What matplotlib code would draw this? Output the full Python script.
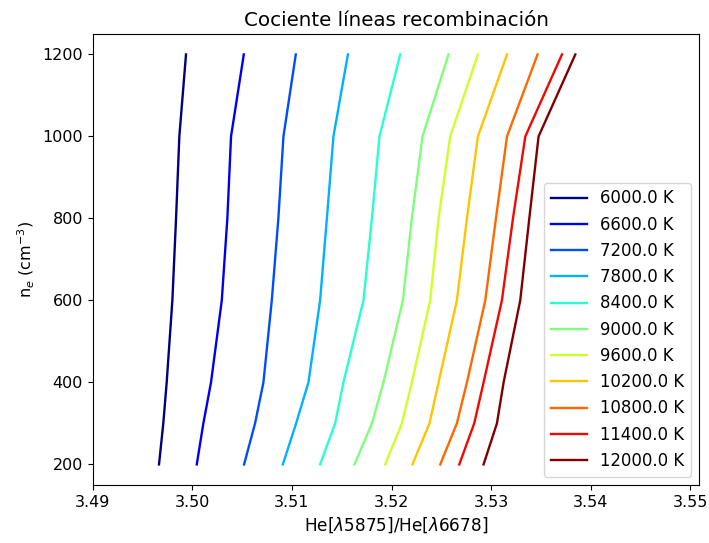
import numpy as np
import matplotlib
matplotlib.use("Agg")
import matplotlib.pyplot as plt

# densidades electronicas (cm^-3)
ne = [200, 300, 400, 600, 800, 1000, 1200]

temps = [6000.0, 6600.0, 7200.0, 7800.0, 8400.0, 9000.0,
         9600.0, 10200.0, 10800.0, 11400.0, 12000.0]

# cociente He 5875/6678 para cada temperatura
ratio_6000 = [3.49666, 3.49709, 3.49743, 3.49800, 3.49837, 3.49870, 3.49937]
ratio_6600 = [3.50045, 3.50111, 3.50188, 3.50296, 3.50352, 3.50389, 3.50517]
ratio_7200 = [3.50520, 3.50630, 3.50714, 3.50798, 3.50864, 3.50915, 3.51039]
ratio_7800 = [3.50909, 3.51042, 3.51166, 3.51283, 3.51351, 3.51417, 3.51562]
ratio_8400 = [3.51283, 3.51434, 3.51517, 3.51718, 3.51803, 3.51879, 3.52087]
ratio_9000 = [3.51628, 3.51803, 3.51919, 3.52114, 3.52204, 3.52311, 3.52572]
ratio_9600 = [3.51936, 3.52104, 3.52204, 3.52388, 3.52472, 3.52589, 3.52867]
ratio_10200 = [3.52210, 3.52381, 3.52472, 3.52656, 3.52757, 3.52867, 3.53159]
ratio_10800 = [3.52489, 3.52656, 3.52757, 3.52941, 3.53048, 3.53159, 3.53466]
ratio_11400 = [3.52680, 3.52830, 3.52924, 3.53108, 3.53219, 3.53343, 3.53711]
ratio_12000 = [3.52924, 3.53058, 3.53125, 3.53292, 3.53383, 3.53476, 3.53845]

ratios = [ratio_6000, ratio_6600, ratio_7200, ratio_7800, ratio_8400, ratio_9000,
          ratio_9600, ratio_10200, ratio_10800, ratio_11400, ratio_12000]

plt.rcParams["font.size"] = 11.5

fig = plt.figure(figsize=(7.09, 5.43), dpi=100)
ax = fig.add_axes([0.1307, 0.107, 0.8557, 0.8305])

colors = plt.cm.jet(np.linspace(0, 1, len(temps)))
for T, r, c in zip(temps, ratios, colors):
    ax.plot(r, ne, color=c, lw=1.7, label=f"{T} K")

ax.set_xlim(3.49, 3.5509)
ax.set_ylim(150, 1250)
ax.set_xticks([3.49, 3.50, 3.51, 3.52, 3.53, 3.54, 3.55])
ax.set_xlabel(r"He[$\lambda$5875]/He[$\lambda$6678]", fontsize=12.2)
ax.set_ylabel(r"n$_e$ (cm$^{-3}$)")
ax.set_title("Cociente líneas recombinación", fontsize=14.3)
ax.legend(loc="lower right", fontsize=11.9, handlelength=2.2)

fig.savefig("out.png", dpi=100)
